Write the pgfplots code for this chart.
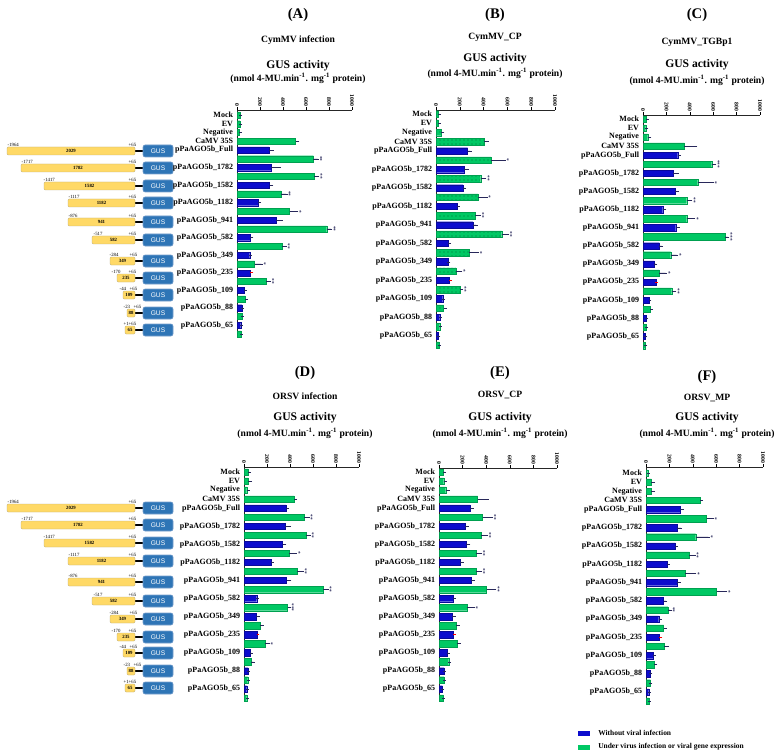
\documentclass[border=0pt]{standalone}
\usepackage{fontspec}
\setmainfont{Liberation Serif}
\newfontfamily\gusfont{Liberation Sans}
\usepackage{pgfplots}
\pgfplotsset{compat=1.18}
\usepackage{pgfplotstable}
\usetikzlibrary{patterns}

\definecolor{nobar}{RGB}{12,12,205}
\definecolor{virbar}{RGB}{0,200,100}
\definecolor{promo}{RGB}{255,217,102}
\definecolor{promoedge}{RGB}{185,170,120}
\definecolor{gusbox}{RGB}{46,117,182}
\definecolor{gusedge}{RGB}{120,160,205}
\definecolor{errc}{RGB}{40,40,90}

\newcommand{\fs}[1]{\fontsize{#1}{#1}\selectfont\bfseries}

% ---------- data (slot index: 0..25, blue = without virus, green = with virus) ----------
\pgfplotstableread{
y v e
4 277 29
6 298 72
8 283 20
10 182 14
12 341 43
14 116 14
16 110 6
20 66 5
22 43 4
24 32 4
}\Ablue
\pgfplotstableread{
y v e s
0 25 8 {}
1 25 8 {}
2 20 8 {}
3 509 20 {}
5 665 35 **
7 673 29 **
9 384 43 **
11 457 63 *
13 780 37 **
15 390 29 **
17 153 58 *
19 254 29 **
21 72 12 {}
23 43 4 {}
25 35 4 {}
}\Agreen

\pgfplotstableread{
y v e
4 265 22
6 237 28
8 226 14
10 175 14
12 309 28
14 106 8
16 100 8
20 56 8
22 31 4
24 20 4
}\Bblue
\pgfplotstableread{
y v e s
0 22 6 {}
1 22 6 {}
2 42 17 {}
3 407 25 {}
5 462 111 *
7 376 36 **
9 351 70 *
11 329 36 **
13 552 50 **
15 279 70 *
17 167 42 *
19 203 14 **
21 64 14 {}
23 31 4 {}
25 25 4 {}
}\Bgreen

\pgfplotstableread{
y v e
4 296 14
6 259 34
8 274 20
10 168 20
12 279 23
14 140 20
16 97 14
20 51 9
22 28 4
24 17 4
}\Cblue
\pgfplotstableread{
y v e s
0 26 11 {}
1 23 10 {}
2 40 20 {}
3 353 100 {}
5 587 28 ***
7 467 125 *
9 373 37 **
11 373 63 *
13 701 23 ***
15 237 51 *
17 137 57 *
19 245 28 **
21 60 14 {}
23 28 4 {}
25 20 4 {}
}\Cgreen

\pgfplotstableread{
y v e
4 364 12
6 355 43
8 335 20
10 234 12
12 370 29
14 110 6
16 104 20
20 52 12
22 35 4
24 23 4
}\Dblue
\pgfplotstableread{
y v e s
0 35 12 {}
1 38 20 {}
2 23 15 {}
3 436 14 {}
5 523 35 **
7 538 29 **
9 390 60 *
11 462 46 **
13 688 35 **
15 379 14 ***
17 139 20 {}
19 182 29 *
21 61 20 {}
23 32 4 {}
25 23 4 {}
}\Dgreen

\pgfplotstableread{
y v e
4 261 20
6 219 20
8 233 20
10 182 17
12 270 20
14 119 9
16 114 14
20 68 9
22 43 4
24 28 4
}\Eblue
\pgfplotstableread{
y v e s
0 34 14 {}
1 40 14 {}
2 57 20 {}
3 327 82 {}
5 369 77 **
7 355 48 **
9 312 40 **
11 312 40 **
13 403 71 **
15 239 51 *
17 148 14 {}
19 153 17 {}
21 82 9 {}
23 43 4 {}
25 34 4 {}
}\Egreen

\pgfplotstableread{
y v e
4 292 20
6 269 28
8 249 14
10 178 14
12 263 20
14 150 20
16 108 14
20 59 11
22 37 4
24 23 4
}\Fblue
\pgfplotstableread{
y v e s
0 14 4 {}
1 45 20 {}
2 45 20 {}
3 462 14 {}
5 518 48 *
7 425 108 *
9 371 40 **
11 334 85 *
13 603 79 *
15 187 20 **
17 150 14 {}
19 156 28 {}
21 71 14 {}
23 37 4 {}
25 25 4 {}
}\Fgreen

\pgfplotsset{
  gus/.style={
    scale only axis,
    anchor=north west,
    xmin=0, xmax=1000,
    axis x line*=top, axis y line*=left,
    xtick={0,200,400,600,800,1000},
    /pgf/number format/1000 sep={},
    /pgf/number format/assume math mode=true,
    xticklabel style={rotate=-90, anchor=east, font=\fs{4.3}, inner sep=0.8pt},
    ytick={0,-1,-2,-3,-4,-6,-8,-10,-12,-14,-16,-18,-20,-22,-24},
    yticklabels={Mock,EV,Negative,CaMV 35S,pPaAGO5b\_Full,pPaAGO5b\_1782,pPaAGO5b\_1582,pPaAGO5b\_1182,pPaAGO5b\_941,pPaAGO5b\_582,pPaAGO5b\_349,pPaAGO5b\_235,pPaAGO5b\_109,pPaAGO5b\_88,pPaAGO5b\_65},
    yticklabel style={font=\fs{6}, inner sep=0.8pt},
    ytick style={draw=none},
    xtick style={black, line width=0.4pt},
    major tick length=2pt,
    tick align=outside,
    axis line style={line width=0.5pt, black!85},
    clip=false,
  },
  err common/.style={
    error bars/x dir=plus, error bars/x explicit,
    error bars/error bar style={line width=0.35pt, #1},
    error bars/error mark options={line width=0.35pt, mark size=1.1pt, #1}},
  blue bars/.style={xbar, bar width=0.7, bar shift=0pt, fill=nobar, draw=nobar!75!black,
    line width=0.2pt, err common=errc},
  green bars/.style={xbar, bar width=0.7, bar shift=0pt, fill=virbar, draw=virbar!80!black,
    line width=0.2pt, err common=errc},
  stars/.style={draw=none, mark=none, forget plot, nodes near coords, point meta=explicit symbolic,
    nodes near coords style={rotate=-90, anchor=south, font=\fs{4}, inner sep=0.6pt, errc}},
}

\newcommand{\gusplot}[5][]{%
  \addplot[blue bars] table[x=v, y expr=-\thisrow{y}, x error=e] {#2};
  \addplot[blue bars, err common=red, forget plot] coordinates {(#4,-18) +- (#5,0)};
  \addplot[green bars, #1] table[x=v, y expr=-\thisrow{y}, x error=e] {#3};
  \addplot[stars] table[x expr=\thisrow{v}+\thisrow{e}, y expr=-\thisrow{y}, meta=s] {#3};
}

% #1 left end, #2 row y, #3 length, #4 start position, #5 x of start label, #6 x of +65 label
\newcommand{\promoter}[6]{%
  \draw[line width=0.8pt] (135,#2) -- (143,#2);
  \draw[promoedge, fill=promo, line width=0.3pt, rounded corners=0.8pt] (#1,#2-4) rectangle (135,#2+4);
  \node[font=\fs{3.6}, inner sep=0pt] at ({(#1+135)/2},#2) {#3};
  \node[font=\fontsize{3.6}{3.6}\selectfont, anchor=south west, inner sep=0.3pt] at (#5,#2-4) {#4};
  \node[font=\fontsize{3.6}{3.6}\selectfont, anchor=south west, inner sep=0.3pt] at (#6,#2-4) {+65};
  \draw[gusedge, fill=gusbox, line width=0.4pt, rounded corners=1.5pt] (143,#2-6) rectangle (173,#2+6);
  \node[font=\gusfont\fontsize{5}{5}\selectfont, text=white, inner sep=0pt] at (158,#2) {GUS};
}

\newcommand{\heads}[7]{%
  \node[font=\fs{11}] at (#1,#2) {#3};
  \node[font=\fs{7.2}] at (#1,#4) {#5};
  \node[font=\fs{8.7}] at (#1,#6) {GUS activity};
  \node[font=\fs{7.2}] at (#1,#7) {(nmol 4-MU.min\textsuperscript{-1}. mg\textsuperscript{-1} protein)};
}

\begin{document}
\begin{tikzpicture}[x=0.75pt, y=-0.75pt]
\path[use as bounding box] (0,0) rectangle (782,756);

\coordinate (pA) at (237,110);
\coordinate (pB) at (436,110);
\coordinate (pC) at (643,115);
\coordinate (pD) at (244,467);
\coordinate (pE) at (439,468);
\coordinate (pF) at (646,467);

% headings
\heads{298}{15}{(A)}{40}{CymMV infection}{66}{78}
\heads{495}{15}{(B)}{37}{CymMV\_CP}{59}{73}
\heads{697}{15}{(C)}{42}{CymMV\_TGBp1}{65}{80}
\heads{305}{373}{(D)}{396}{ORSV infection}{418}{433}
\heads{500}{373}{(E)}{395}{ORSV\_CP}{418}{433}
\heads{707}{377}{(F)}{398}{ORSV\_MP}{418}{433}

% promoter deletion constructs
\foreach \l/\ya/\yd/\n/\s/\sx/\px in {7/151/508/2029/-1964/7/128, 21/168/525/1782/-1717/21/128,
  44/186/543/1582/-1417/43/128, 68/203/561/1182/-1117/68/128, 68/222/582/941/-876/68/128,
  92/240/601/582/-517/93/128, 110/261/619/349/-284/109/129, 117/278/637/235/-170/111/128,
  123/295/653/109/-44/119/129, 127/313/671/88/-23/123/133, 125/330/688/65/+1/123/128}
{
  \promoter{\l}{\ya}{\n}{\s}{\sx}{\px}
  \promoter{\l}{\yd}{\n}{\s}{\sx}{\px}
}

\begin{axis}[gus, at={(pA)}, width=86.25pt, height=171pt, ymin=-25.45, ymax=0.57]
\gusplot{\Ablue}{\Agreen}{118}{12}
\end{axis}

\begin{axis}[gus, at={(pB)}, width=89.25pt, height=179.25pt, ymin=-25.43, ymax=0.43]
\gusplot[postaction={pattern=dots, pattern color=virbar!55!black}]{\Bblue}{\Bgreen}{114}{6}
\end{axis}

\begin{axis}[gus, at={(pC)}, width=87.75pt, height=176.25pt, ymin=-25.5, ymax=0.44]
\gusplot{\Cblue}{\Cgreen}{108}{9}
\end{axis}

\begin{axis}[gus, at={(pD)}, width=86.25pt, height=176.25pt, ymin=-25.45, ymax=0.55]
\gusplot{\Dblue}{\Dgreen}{110}{12}
\end{axis}

\begin{axis}[gus, at={(pE)}, width=88.5pt, height=175.5pt, ymin=-25.45, ymax=0.44]
\gusplot{\Eblue}{\Egreen}{119}{14}
\end{axis}

\begin{axis}[gus, at={(pF)}, width=87.75pt, height=178.5pt, ymin=-25.43, ymax=0.66]
\gusplot{\Fblue}{\Fgreen}{116}{11}
\end{axis}

% legend
\fill[nobar] (578,730.5) rectangle (590,735.5);
\node[anchor=west, font=\fs{5.6}, inner sep=0pt] at (598,733) {Without viral infection};
\fill[virbar] (578,744.5) rectangle (590,749.5);
\node[anchor=west, font=\fs{5.6}, inner sep=0pt] at (598,747) {Under virus infection or viral gene expression};

\end{tikzpicture}
\end{document}
